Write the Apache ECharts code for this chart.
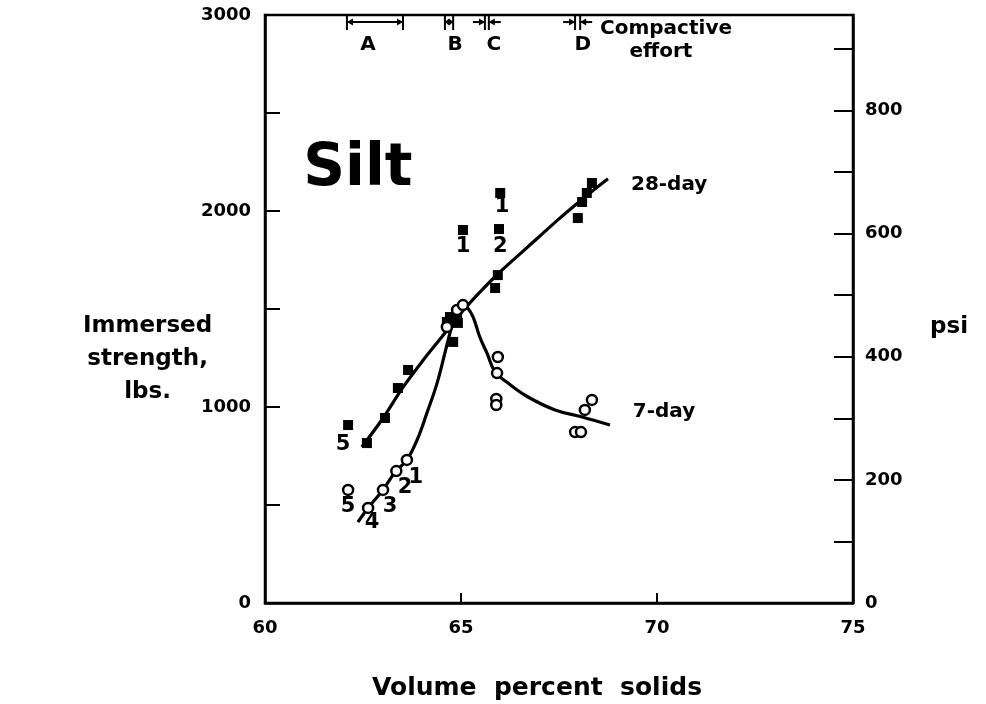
<!DOCTYPE html>
<html>
<head>
<meta charset="utf-8">
<script src="https://cdn.jsdelivr.net/npm/echarts@6/dist/echarts.min.js"></script>
<style>
  html, body { margin: 0; padding: 0; background: #fff; }
  #chart { width: 986px; height: 704px; }
</style>
</head>
<body>
<div id="chart"></div>
<script>
// measured points, [volume % solids, immersed strength lbs]
const day28Points = [
    [62.12, 908], [62.6, 816], [63.06, 944], [63.39, 1097], [63.65, 1189],
    [64.64, 1434], [64.72, 1459], [64.9, 1480], [64.92, 1429], [64.8, 1332],
    [65.05, 1903], [65.97, 1908], [66.0, 2092], [65.94, 1673], [65.87, 1607],
    [67.98, 1964], [68.09, 2046], [68.21, 2092], [68.34, 2143]
];
const day7Points = [
    [62.12, 577], [62.63, 485], [63.01, 577], [63.35, 673], [63.62, 730],
    [64.64, 1408], [64.9, 1495], [65.05, 1520], [65.94, 1255], [65.92, 1173],
    [65.9, 1041], [65.9, 1010], [68.34, 1036], [68.16, 985], [67.91, 872], [68.06, 872]
];

// fitted curves
const day28Curve = [
    [62.47, 796], [63.0, 940], [63.5, 1095], [64.0, 1230], [64.5, 1355], [65.0, 1480],
    [65.5, 1590], [66.0, 1690], [66.5, 1780], [67.0, 1870], [67.5, 1960], [68.0, 2045],
    [68.4, 2110], [68.75, 2165]
];
const day7Curve = [
    [62.37, 413], [62.63, 485], [63.01, 577], [63.32, 668], [63.62, 730], [63.88, 832],
    [64.13, 969], [64.39, 1122], [64.59, 1276], [64.72, 1378], [64.85, 1459], [65.03, 1526],
    [65.15, 1510], [65.31, 1459], [65.48, 1357], [65.66, 1276], [65.87, 1179], [66.2, 1122],
    [66.71, 1051], [67.4, 985], [68.09, 949], [68.8, 908]
];

// compactive effort ranges A-D
const rangeNames = ['A', 'B', 'C', 'D'];
const rangeLow = [62.09, 64.59, 65.61, 67.91];
const rangeHigh = [63.52, 64.80, 65.71, 68.04];
const rangeLabelX = [62.63, 64.85, 65.84, 68.11];
const rangeLineY = 2964;
const rangeLabelY = 2847;

// specimen numbers beside points
const numberText = ['5', '5', '4', '3', '2', '1', '1', '2', '1'];
const numberX = [61.99, 62.12, 62.73, 63.19, 63.57, 63.85, 65.05, 66.0, 66.05];
const numberY = [806, 490, 413, 490, 587, 640, 1820, 1820, 2025];

// other text placed on the plot
const noteText = ['28-day', '7-day', 'Compactive', 'effort'];
const noteX = [70.31, 70.18, 70.23, 70.1];
const noteY = [2133, 974, 2929, 2811];

const FONT = 'DejaVu Sans';

function labelSeries(xs, ys, texts, size) {
    return {
        type: 'scatter',
        symbolSize: 0,
        silent: true,
        z: 5,
        itemStyle: { opacity: 1 },
        data: texts.map(function (t, i) { return { value: [xs[i], ys[i]], name: t }; }),
        label: {
            show: true,
            position: 'inside',
            formatter: function (p) { return p.name; },
            color: '#000',
            textBorderWidth: 0,
            fontFamily: FONT,
            fontWeight: 'bold',
            fontSize: size
        }
    };
}

function renderRange(params, api) {
    const lo = api.coord([api.value(0), rangeLineY]);
    const hi = api.coord([api.value(1), rangeLineY]);
    const y = lo[1];
    const h = 8, aw = 3.5;
    const stroke = { stroke: '#000', lineWidth: 2 };
    const children = [];

    function vbar(x) {
        children.push({ type: 'line', shape: { x1: x, y1: y - h, x2: x, y2: y + h }, style: stroke });
    }
    function hline(x1, x2) {
        children.push({ type: 'line', shape: { x1: x1, y1: y, x2: x2, y2: y }, style: stroke });
    }
    function arrow(tip, dir, len) {
        children.push({
            type: 'polygon',
            shape: { points: [[tip, y], [tip - dir * len, y - aw], [tip - dir * len, y + aw]] },
            style: { fill: '#000' }
        });
    }

    vbar(lo[0]);
    vbar(hi[0]);
    const span = hi[0] - lo[0];
    if (span > 6) {
        hline(lo[0], hi[0]);
        const len = Math.min(6, span / 2);
        arrow(lo[0], -1, len);
        arrow(hi[0], 1, len);
    } else {
        hline(lo[0] - 12, lo[0]);
        hline(hi[0], hi[0] + 12);
        arrow(lo[0], 1, 6);
        arrow(hi[0], -1, 6);
    }
    return { type: 'group', children: children };
}

const chart = echarts.init(document.getElementById('chart'));

const tickFont = { color: '#000', fontFamily: FONT, fontWeight: 'bold', fontSize: 18 };

const option = {
    animation: false,
    backgroundColor: '#fff',
    grid: {
        left: 265, right: 133, top: 15, bottom: 101,
        show: true, borderColor: '#000', borderWidth: 2.5
    },
    xAxis: {
        type: 'value', min: 60, max: 75, interval: 5,
        axisLine: { lineStyle: { color: '#000', width: 2.5 } },
        axisTick: { inside: true, length: 10, lineStyle: { color: '#000', width: 2 } },
        axisLabel: Object.assign({ margin: 16 }, tickFont),
        splitLine: { show: false }
    },
    yAxis: [
        {
            type: 'value', min: 0, max: 3000, interval: 500, position: 'left',
            axisLine: { show: true, lineStyle: { color: '#000', width: 2.5 } },
            axisTick: { show: true, inside: true, length: 15, lineStyle: { color: '#000', width: 2 } },
            axisLabel: Object.assign({
                margin: 14,
                formatter: function (v) { return v % 1000 === 0 ? String(v) : ''; }
            }, tickFont),
            splitLine: { show: false }
        },
        {
            type: 'value', min: 0, max: 955, interval: 100, position: 'right',
            axisLine: { show: true, lineStyle: { color: '#000', width: 2.5 } },
            axisTick: { show: true, inside: true, length: 19, lineStyle: { color: '#000', width: 2 } },
            axisLabel: Object.assign({
                margin: 12,
                formatter: function (v) { return (v % 200 === 0 && v <= 800) ? String(v) : ''; }
            }, tickFont),
            splitLine: { show: false }
        }
    ],
    graphic: [
        {
            type: 'text', left: 83, top: 310,
            style: {
                text: 'Immersed\nstrength,\nlbs.', x: 0, y: 0,
                textAlign: 'center', textVerticalAlign: 'middle',
                font: 'bold 23px "DejaVu Sans"', lineHeight: 33, fill: '#000'
            }
        },
        {
            type: 'text', left: 930, top: 316,
            style: { text: 'psi', font: 'bold 23px "DejaVu Sans"', fill: '#000' }
        },
        {
            type: 'text', left: 372, top: 676,
            style: { text: 'Volume  percent  solids', font: 'bold 25px "DejaVu Sans"', fill: '#000' }
        }
    ],
    series: [
        {
            type: 'line', data: day28Curve, smooth: 0.3, symbol: 'none',
            lineStyle: { color: '#000', width: 3.2 }, z: 2
        },
        {
            type: 'line', data: day7Curve, smooth: 0.4, symbol: 'none',
            lineStyle: { color: '#000', width: 3.2 }, z: 2
        },
        {
            type: 'scatter', data: day28Points, symbol: 'rect', symbolSize: 10,
            itemStyle: { color: '#000', opacity: 1 }, z: 3
        },
        {
            type: 'scatter', data: day7Points, symbol: 'circle', symbolSize: 10,
            itemStyle: { color: '#fff', borderColor: '#000', borderWidth: 2.5, opacity: 1 }, z: 4
        },
        {
            type: 'custom',
            data: rangeLow.map(function (lo, i) { return [lo, rangeHigh[i]]; }),
            encode: { x: [0, 1] },
            renderItem: renderRange,
            clip: false,
            z: 5
        },
        labelSeries(rangeLabelX, rangeNames.map(function () { return rangeLabelY; }), rangeNames, 20),
        labelSeries(numberX, numberY, numberText, 21),
        labelSeries(noteX, noteY, noteText, 20),
        labelSeries([62.37], [2209], ['Silt'], 58)
    ]
};

chart.setOption(option);
</script>
</body>
</html>
